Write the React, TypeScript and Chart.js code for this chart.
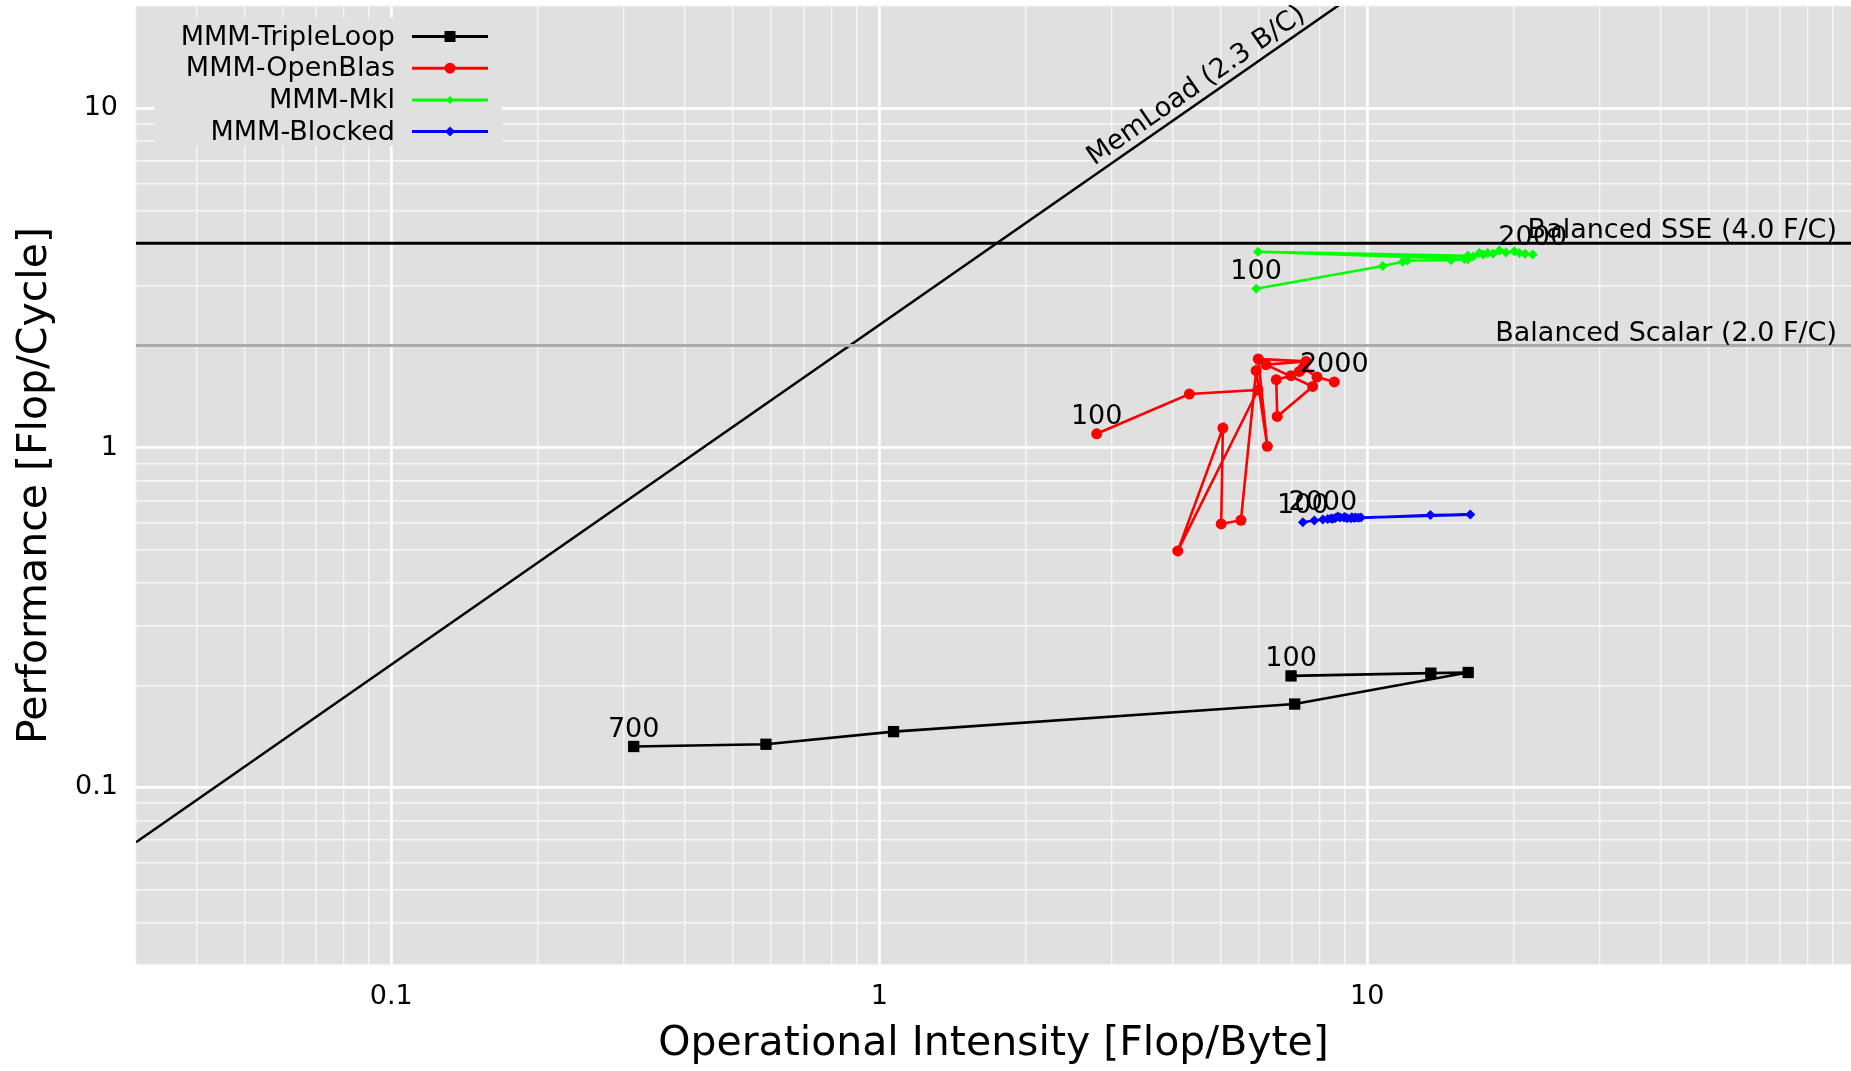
import React, { useEffect, useRef } from 'react';
import { Chart, registerables } from 'chart.js';

Chart.register(...registerables);

const FONT = '"DejaVu Sans", "Liberation Sans", sans-serif';
const BG = '#e0e0e0';

// ---- data ----
const tripleLoopX = [6.98, 13.5, 16.1, 7.1, 1.07, 0.586, 0.314];
const tripleLoopY = [0.213, 0.217, 0.218, 0.176, 0.146, 0.134, 0.132];
const tripleLoopSizes = ['100', '200', '300', '400', '500', '600', '700'];

const openBlasX = [2.79, 4.32, 5.97, 4.09, 5.06, 5.02, 5.51, 5.92, 6.24, 5.98, 7.49, 6.2, 7.73, 6.54, 6.51, 6.98, 7.26, 7.39, 7.89, 8.56];
const openBlasY = [1.1, 1.44, 1.48, 0.497, 1.143, 0.597, 0.612, 1.687, 1.01, 1.827, 1.797, 1.757, 1.516, 1.237, 1.587, 1.631, 1.679, 1.72, 1.616, 1.563];

const mklX = [5.92, 10.76, 11.82, 12.1, 14.85, 15.81, 5.97, 16.07, 16.07, 16.47, 16.97, 17.27, 17.65, 18.1, 18.65, 19.24, 20.01, 20.49, 21.05, 21.83];
const mklY = [2.94, 3.43, 3.53, 3.56, 3.57, 3.6, 3.78, 3.68, 3.59, 3.66, 3.75, 3.71, 3.75, 3.73, 3.81, 3.76, 3.79, 3.75, 3.73, 3.71];

const blockedX = [7.38, 7.79, 8.43, 9.26, 13.47, 16.26, 9.71, 9.48, 8.7, 9.3, 9.6, 8.95, 8.6, 9.0, 9.4, 8.3, 8.8, 9.1, 8.5, 8.11];
const blockedY = [0.604, 0.611, 0.619, 0.62, 0.634, 0.636, 0.623, 0.624, 0.628, 0.625, 0.622, 0.624, 0.621, 0.626, 0.621, 0.617, 0.623, 0.62, 0.618, 0.615];

const bigSizes = ['100', '200', '300', '400', '500', '600', '700', '800', '900', '1000', '1100', '1200', '1300', '1400', '1500', '1600', '1700', '1800', '1900', '2000'];

const seriesNames = ['MMM-TripleLoop', 'MMM-OpenBlas', 'MMM-Mkl', 'MMM-Blocked'];
const seriesColors = ['#000000', '#ff0000', '#00ff00', '#0000ff'];

const memLoadBW = 2.3;
const memLoadLabel = 'MemLoad (2.3 B/C)';
const sseLevel = 4.0;
const sseLabel = 'Balanced SSE (4.0 F/C)';
const scalarLevel = 2.0;
const scalarLabel = 'Balanced Scalar (2.0 F/C)';

const xMin = 0.03;
const xMax = 98;
const yMin = 0.03;
const yMax = 20;

const xTitle = 'Operational Intensity [Flop/Byte]';
const yTitle = 'Performance [Flop/Cycle]';

const zip = (xs: number[], ys: number[]) => xs.map((x, i) => ({ x, y: ys[i] }));

function niceInfo(v: number) {
  const e = Math.floor(Math.log10(v) + 1e-9);
  const m = v / Math.pow(10, e);
  const r = Math.round(m);
  const nice = Math.abs(m - r) < 1e-6 && r >= 1 && r <= 9;
  return { nice, major: nice && r === 1 };
}

function fmt(v: number) {
  return String(Number(v.toPrecision(6)));
}

export default function App() {
  const ref = useRef<HTMLCanvasElement | null>(null);

  useEffect(() => {
    if (!ref.current) return;

    const seriesLabels: { ds: number; idx: number; text: string }[] = [
      { ds: 0, idx: 0, text: tripleLoopSizes[0] },
      { ds: 0, idx: tripleLoopSizes.length - 1, text: tripleLoopSizes[tripleLoopSizes.length - 1] },
      { ds: 1, idx: 0, text: bigSizes[0] },
      { ds: 1, idx: bigSizes.length - 1, text: bigSizes[bigSizes.length - 1] },
      { ds: 2, idx: 0, text: bigSizes[0] },
      { ds: 2, idx: bigSizes.length - 1, text: bigSizes[bigSizes.length - 1] },
      { ds: 3, idx: 0, text: bigSizes[0] },
      { ds: 3, idx: bigSizes.length - 1, text: bigSizes[bigSizes.length - 1] },
    ];

    const overlay = {
      id: 'overlay',
      beforeDraw(chart: any) {
        const { ctx, chartArea } = chart;
        ctx.save();
        ctx.fillStyle = BG;
        ctx.fillRect(chartArea.left, chartArea.top, chartArea.right - chartArea.left, chartArea.bottom - chartArea.top);
        ctx.restore();
      },
      afterDatasetsDraw(chart: any) {
        const { ctx, chartArea } = chart;
        const xs = chart.scales.x;
        const ys = chart.scales.y;
        ctx.save();
        ctx.fillStyle = '#000';
        ctx.font = `27px ${FONT}`;
        ctx.textAlign = 'center';
        ctx.textBaseline = 'middle';
        for (const l of seriesLabels) {
          const meta = chart.getDatasetMeta(l.ds);
          const el = meta.data[l.idx];
          if (!el) continue;
          ctx.fillText(l.text, el.x, el.y - 16.5);
        }
        ctx.textAlign = 'right';
        ctx.fillText(sseLabel, chartArea.right - 14, ys.getPixelForValue(sseLevel) - 12);
        ctx.fillText(scalarLabel, chartArea.right - 14, ys.getPixelForValue(scalarLevel) - 12);
        const x1 = 1, x2 = 10;
        const p1 = { x: xs.getPixelForValue(x1), y: ys.getPixelForValue(memLoadBW * x1) };
        const p2 = { x: xs.getPixelForValue(x2), y: ys.getPixelForValue(memLoadBW * x2) };
        const ang = Math.atan2(p2.y - p1.y, p2.x - p1.x);
        const xc = 4.65;
        const pc = { x: xs.getPixelForValue(xc), y: ys.getPixelForValue(memLoadBW * xc) };
        ctx.translate(pc.x, pc.y);
        ctx.rotate(ang);
        ctx.textAlign = 'center';
        ctx.textBaseline = 'middle';
        ctx.fillText(memLoadLabel, 0, -15);
        ctx.restore();
      },
      afterDraw(chart: any) {
        const { ctx, chartArea } = chart;
        const L = chartArea.left;
        const T = chartArea.top;
        ctx.save();
        ctx.fillStyle = BG;
        ctx.fillRect(L + 19, T + 12, 347, 128);
        ctx.font = `27px ${FONT}`;
        ctx.textAlign = 'right';
        ctx.textBaseline = 'middle';
        for (let i = 0; i < seriesNames.length; i++) {
          const y = T + 30.5 + i * 31.7;
          ctx.fillStyle = '#000';
          ctx.fillText(seriesNames[i], L + 259, y + 1);
          ctx.strokeStyle = seriesColors[i];
          ctx.lineWidth = 3;
          ctx.beginPath();
          ctx.moveTo(L + 276, y);
          ctx.lineTo(L + 352, y);
          ctx.stroke();
          ctx.fillStyle = seriesColors[i];
          const cx = L + 314;
          ctx.beginPath();
          if (i === 0) {
            ctx.rect(cx - 5.5, y - 5.5, 11, 11);
          } else if (i === 1) {
            ctx.arc(cx, y, 5.5, 0, Math.PI * 2);
          } else {
            const r = i === 2 ? 4 : 5;
            ctx.moveTo(cx - r, y);
            ctx.lineTo(cx, y - r);
            ctx.lineTo(cx + r, y);
            ctx.lineTo(cx, y + r);
            ctx.closePath();
          }
          ctx.fill();
        }
        ctx.restore();
      },
    };

    const gridColor = (c: any) => {
      const v = c.tick?.value;
      if (!v) return 'rgba(0,0,0,0)';
      const n = niceInfo(v);
      if (!n.nice) return 'rgba(0,0,0,0)';
      return n.major ? '#ffffff' : '#f7f7f7';
    };
    const gridWidth = (c: any) => {
      const v = c.tick?.value;
      if (!v) return 0;
      const n = niceInfo(v);
      return n.major ? 2.8 : 1.4;
    };
    const tickCb = (v: any) => {
      const n = niceInfo(Number(v));
      return n.major ? fmt(Number(v)) : '';
    };
    const zeroPad = (s: any) => {
      s.paddingTop = 0;
      s.paddingBottom = 0;
      s.paddingLeft = 0;
      s.paddingRight = 0;
    };

    const chart = new Chart(ref.current, {
      type: 'scatter',
      data: {
        datasets: [
          {
            label: seriesNames[0],
            data: zip(tripleLoopX, tripleLoopY),
            showLine: true,
            borderColor: seriesColors[0],
            backgroundColor: seriesColors[0],
            borderWidth: 2.6,
            pointStyle: 'rect',
            pointRadius: 8,
            pointBorderWidth: 0,
          },
          {
            label: seriesNames[1],
            data: zip(openBlasX, openBlasY),
            showLine: true,
            borderColor: seriesColors[1],
            backgroundColor: seriesColors[1],
            borderWidth: 2.6,
            pointStyle: 'circle',
            pointRadius: 5.5,
            pointBorderWidth: 0,
          },
          {
            label: seriesNames[2],
            data: zip(mklX, mklY),
            showLine: true,
            borderColor: seriesColors[2],
            backgroundColor: seriesColors[2],
            borderWidth: 2.6,
            pointStyle: 'rectRot',
            pointRadius: 5,
            pointBorderWidth: 0,
          },
          {
            label: seriesNames[3],
            data: zip(blockedX, blockedY),
            showLine: true,
            borderColor: seriesColors[3],
            backgroundColor: seriesColors[3],
            borderWidth: 2.6,
            pointStyle: 'rectRot',
            pointRadius: 5,
            pointBorderWidth: 0,
          },
          {
            label: 'sse',
            data: [{ x: xMin, y: sseLevel }, { x: xMax, y: sseLevel }],
            showLine: true,
            borderColor: '#000000',
            borderWidth: 3,
            pointRadius: 0,
          },
          {
            label: 'scalar',
            data: [{ x: xMin, y: scalarLevel }, { x: xMax, y: scalarLevel }],
            showLine: true,
            borderColor: '#aaaaaa',
            borderWidth: 3,
            pointRadius: 0,
          },
          {
            label: 'memload',
            data: [{ x: xMin, y: memLoadBW * xMin }, { x: 10, y: memLoadBW * 10 }],
            showLine: true,
            borderColor: '#000000',
            borderWidth: 2.5,
            pointRadius: 0,
            clip: 0,
          },
        ] as any,
      },
      options: {
        animation: false,
        responsive: true,
        maintainAspectRatio: false,
        layout: { autoPadding: false, padding: { top: 6, right: 0, left: 0, bottom: 0 } },
        plugins: {
          legend: { display: false },
          tooltip: { enabled: false },
        },
        elements: { line: { tension: 0 } },
        scales: {
          x: {
            type: 'logarithmic',
            min: xMin,
            max: xMax,
            afterFit: (s: any) => { s.height = 106; zeroPad(s); },
            border: { display: false },
            grid: { color: gridColor, lineWidth: gridWidth, drawTicks: false },
            ticks: {
              autoSkip: false,
              maxRotation: 0,
              padding: 16,
              color: '#000',
              font: { family: FONT, size: 27 },
              callback: tickCb,
            },
            title: {
              display: true,
              text: xTitle,
              color: '#000',
              font: { family: FONT, size: 41 },
              padding: { top: 0, bottom: 2 },
            },
          },
          y: {
            type: 'logarithmic',
            min: yMin,
            max: yMax,
            afterFit: (s: any) => { s.width = 136; zeroPad(s); },
            border: { display: false },
            grid: { color: gridColor, lineWidth: gridWidth, drawTicks: false },
            ticks: {
              autoSkip: false,
              padding: 18,
              color: '#000',
              font: { family: FONT, size: 27 },
              callback: tickCb,
            },
            title: {
              display: true,
              text: yTitle,
              color: '#000',
              font: { family: FONT, size: 41 },
              padding: { top: 11, bottom: 0 },
            },
          },
        },
      } as any,
      plugins: [overlay],
    });

    return () => chart.destroy();
  }, []);

  return (
    <div style={{ position: 'absolute', left: 0, top: 0, width: 1851, height: 1071, background: '#fff' }}>
      <canvas ref={ref} />
    </div>
  );
}
